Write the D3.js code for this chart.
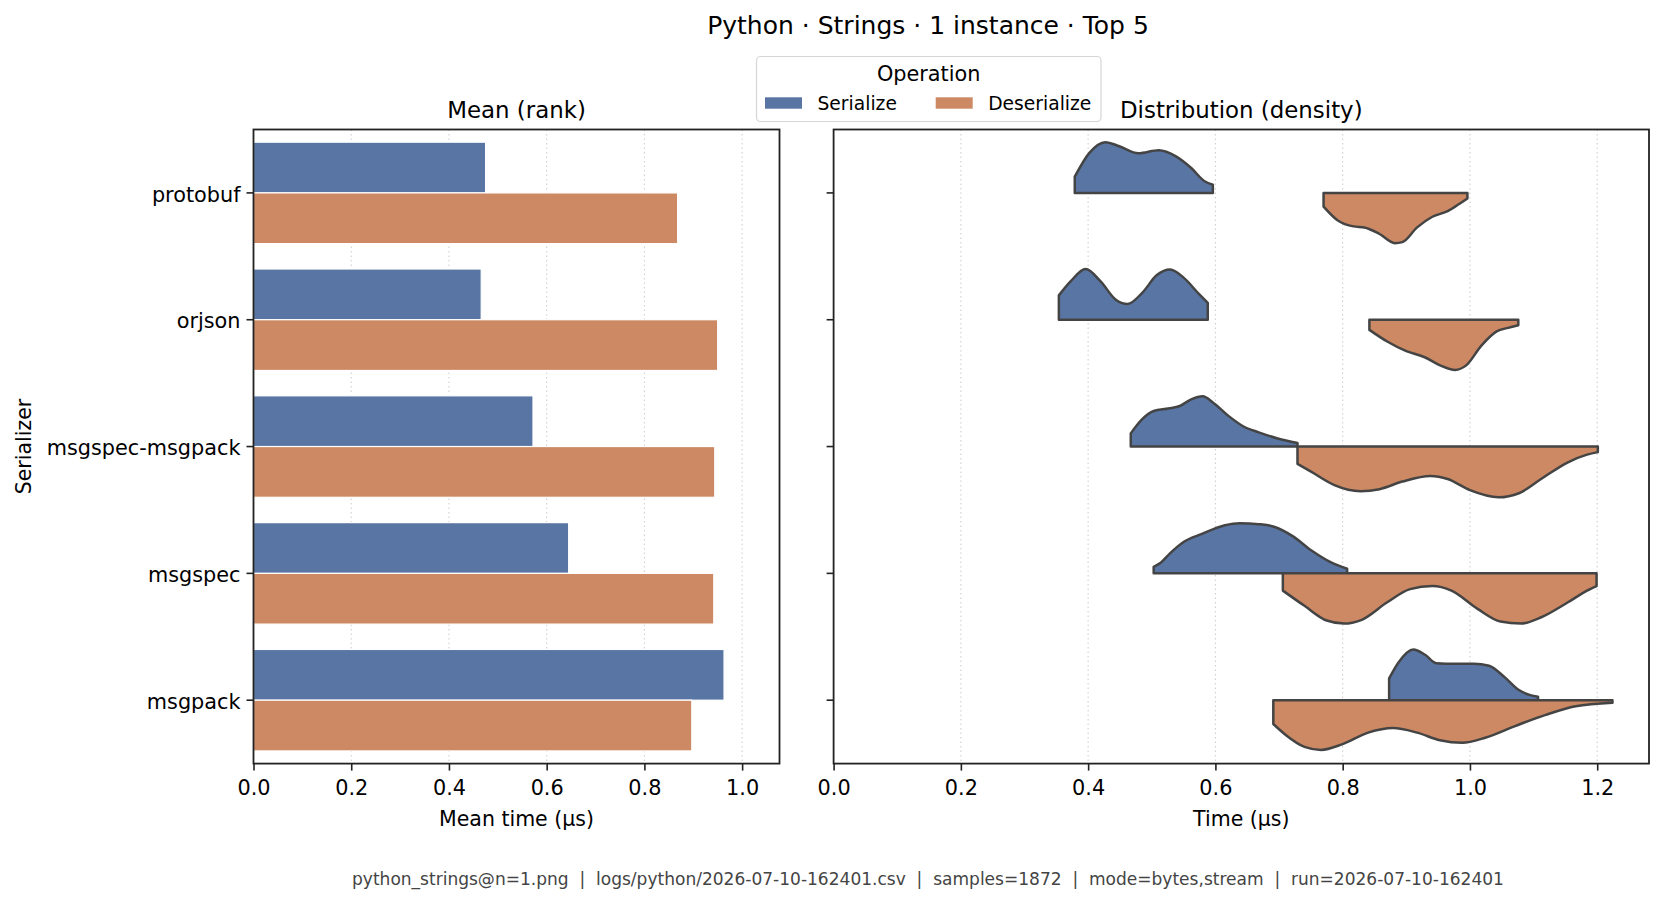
<!DOCTYPE html>
<html>
<head>
<meta charset="utf-8">
<title>Python Strings benchmark</title>
<script src="https://d3js.org/d3.v7.min.js"></script>
<style>
  body { margin: 0; background: #fff; }
  text { font-family: "DejaVu Sans", sans-serif; fill: #000; }
  .tick text { font-size: 20.8px; }
  .tick line { stroke: #222; stroke-width: 1.6px; }
</style>
</head>
<body>
<div id="chart"></div>
<script>
// ---- data ----
const categories = ["protobuf", "orjson", "msgspec-msgpack", "msgspec", "msgpack"];
const operations = ["Serialize", "Deserialize"];
const meanSerialize = [0.475, 0.466, 0.572, 0.645, 0.963];
const meanDeserialize = [0.868, 0.950, 0.944, 0.942, 0.897];
const leftTicks = [0.0, 0.2, 0.4, 0.6, 0.8, 1.0];
const rightTicks = [0.0, 0.2, 0.4, 0.6, 0.8, 1.0, 1.2];

// density profiles [time µs, relative density], one list per serializer
const serializeDensity = [
  [[0.379, 0.32], [0.402, 0.79], [0.427, 1.0], [0.449, 0.92], [0.479, 0.78], [0.511, 0.84], [0.538, 0.72], [0.562, 0.49], [0.583, 0.23], [0.596, 0.16]],
  [[0.354, 0.48], [0.372, 0.75], [0.396, 1.0], [0.420, 0.75], [0.443, 0.40], [0.462, 0.31], [0.485, 0.53], [0.508, 0.88], [0.529, 0.99], [0.550, 0.83], [0.574, 0.51], [0.588, 0.33]],
  [[0.467, 0.26], [0.485, 0.54], [0.503, 0.70], [0.526, 0.75], [0.544, 0.80], [0.562, 0.93], [0.580, 0.99], [0.597, 0.86], [0.621, 0.60], [0.645, 0.39], [0.668, 0.28], [0.698, 0.16], [0.729, 0.07]],
  [[0.503, 0.13], [0.514, 0.21], [0.529, 0.40], [0.550, 0.62], [0.579, 0.78], [0.615, 0.95], [0.638, 0.99], [0.668, 0.97], [0.692, 0.92], [0.722, 0.73], [0.751, 0.45], [0.781, 0.22], [0.807, 0.09]],
  [[0.873, 0.43], [0.888, 0.75], [0.911, 1.0], [0.929, 0.90], [0.947, 0.73], [0.977, 0.72], [1.006, 0.72], [1.030, 0.68], [1.054, 0.46], [1.077, 0.20], [1.095, 0.10], [1.107, 0.07]]
];
const deserializeDensity = [
  [[0.770, 0.27], [0.793, 0.55], [0.817, 0.66], [0.834, 0.68], [0.858, 0.81], [0.882, 0.99], [0.894, 0.97], [0.917, 0.68], [0.941, 0.47], [0.965, 0.36], [0.983, 0.22], [0.996, 0.11]],
  [[0.842, 0.20], [0.870, 0.43], [0.900, 0.62], [0.929, 0.74], [0.953, 0.90], [0.977, 0.99], [0.994, 0.90], [1.018, 0.51], [1.042, 0.23], [1.060, 0.16], [1.076, 0.11]],
  [[0.729, 0.34], [0.751, 0.50], [0.787, 0.76], [0.828, 0.88], [0.858, 0.84], [0.894, 0.69], [0.938, 0.58], [0.965, 0.64], [1.000, 0.86], [1.045, 1.0], [1.077, 0.92], [1.113, 0.63], [1.154, 0.31], [1.184, 0.16], [1.201, 0.11]],
  [[0.706, 0.34], [0.740, 0.64], [0.775, 0.93], [0.802, 0.99], [0.829, 0.92], [0.870, 0.57], [0.906, 0.31], [0.941, 0.25], [0.971, 0.34], [1.012, 0.70], [1.048, 0.95], [1.080, 0.99], [1.113, 0.86], [1.154, 0.57], [1.184, 0.34], [1.199, 0.25]],
  [[0.691, 0.47], [0.710, 0.68], [0.740, 0.92], [0.766, 0.98], [0.799, 0.87], [0.840, 0.64], [0.879, 0.55], [0.917, 0.64], [0.953, 0.79], [0.988, 0.84], [1.024, 0.74], [1.071, 0.51], [1.119, 0.29], [1.166, 0.12], [1.224, 0.05]]
];
const footerText = "python_strings@n=1.png  |  logs/python/2026-07-10-162401.csv  |  samples=1872  |  mode=bytes,stream  |  run=2026-07-10-162401";

const colors = { Serialize: "#5975a4", Deserialize: "#cc8963" };

const W = 1663, H = 905;
const plotTop = 129.5, plotBottom = 763.6;
const leftPanel = { x0: 253.5, x1: 779.5 };
const rightPanel = { x0: 833.6, x1: 1649 };

const svg = d3.select("#chart").append("svg").attr("width", W).attr("height", H);

const y = d3.scaleBand().domain(categories).range([plotTop, plotBottom]).padding(0);
const bw = y.bandwidth();
const xl = d3.scaleLinear().domain([0, 1.0765]).range([leftPanel.x0, leftPanel.x1]);
const xr = d3.scaleLinear().domain([0, 1.2814]).range([rightPanel.x0, rightPanel.x1]);

function drawGrid(x, ticks) {
  svg.append("g").selectAll("line").data(ticks.filter(t => t > 0)).join("line")
    .attr("x1", d => x(d)).attr("x2", d => x(d))
    .attr("y1", plotTop).attr("y2", plotBottom)
    .attr("stroke", "#d0d0d0").attr("stroke-width", 1.1)
    .attr("stroke-dasharray", "1.5,3");
}
drawGrid(xl, leftTicks);
drawGrid(xr, rightTicks);

// ---- left: mean bars ----
const bars = svg.append("g");
categories.forEach((c, i) => {
  [meanSerialize[i], meanDeserialize[i]].forEach((v, k) => {
    bars.append("rect")
      .attr("x", xl(0))
      .attr("y", y(c) + bw * 0.1 + k * bw * 0.4)
      .attr("width", xl(v) - xl(0))
      .attr("height", bw * 0.4)
      .attr("fill", colors[operations[k]])
      .attr("stroke", "#fff").attr("stroke-width", 1.2);
  });
});

// ---- right: split violins ----
const half = bw * 0.4;
const violins = svg.append("g");
categories.forEach((c, i) => {
  const mid = y(c) + bw / 2;
  const up = d3.area().curve(d3.curveMonotoneX)
    .x(d => xr(d[0])).y0(mid).y1(d => mid - d[1] * half);
  const down = d3.area().curve(d3.curveMonotoneX)
    .x(d => xr(d[0])).y0(mid).y1(d => mid + d[1] * half);
  violins.append("path").attr("d", up(serializeDensity[i]))
    .attr("fill", colors.Serialize).attr("stroke", "#444")
    .attr("stroke-width", 2.5).attr("stroke-linejoin", "round");
  violins.append("path").attr("d", down(deserializeDensity[i]))
    .attr("fill", colors.Deserialize).attr("stroke", "#444")
    .attr("stroke-width", 2.5).attr("stroke-linejoin", "round");
});

// ---- axes ----
function frame(p) {
  svg.append("rect").attr("x", p.x0).attr("y", plotTop)
    .attr("width", p.x1 - p.x0).attr("height", plotBottom - plotTop)
    .attr("fill", "none").attr("stroke", "#222").attr("stroke-width", 1.8);
}
frame(leftPanel);
frame(rightPanel);

const fmt = d3.format(".1f");
svg.append("g").attr("transform", `translate(0,${plotBottom})`)
  .call(d3.axisBottom(xl).tickValues(leftTicks).tickFormat(fmt).tickSize(7).tickPadding(10))
  .call(g => g.select(".domain").remove());
svg.append("g").attr("transform", `translate(0,${plotBottom})`)
  .call(d3.axisBottom(xr).tickValues(rightTicks).tickFormat(fmt).tickSize(7).tickPadding(10))
  .call(g => g.select(".domain").remove());
svg.append("g").attr("transform", `translate(${leftPanel.x0},0)`)
  .call(d3.axisLeft(y).tickSize(7).tickPadding(6))
  .call(g => g.select(".domain").remove())
  .call(g => g.selectAll(".tick text").attr("dy", "0.42em"));
svg.append("g").attr("transform", `translate(${rightPanel.x0},0)`)
  .call(d3.axisLeft(y).tickSize(7).tickFormat(""))
  .call(g => g.select(".domain").remove());
svg.selectAll(".tick text").attr("fill", "#000");

// ---- texts ----
svg.append("text").attr("x", 928).attr("y", 25.5)
  .attr("text-anchor", "middle").attr("dominant-baseline", "central")
  .style("font-size", "25px").text("Python · Strings · 1 instance · Top 5");
svg.append("text").attr("x", (leftPanel.x0 + leftPanel.x1) / 2).attr("y", 110)
  .attr("text-anchor", "middle").attr("dominant-baseline", "central")
  .style("font-size", "22.9px").text("Mean (rank)");
svg.append("text").attr("x", (rightPanel.x0 + rightPanel.x1) / 2).attr("y", 110)
  .attr("text-anchor", "middle").attr("dominant-baseline", "central")
  .style("font-size", "22.9px").text("Distribution (density)");
svg.append("text").attr("x", (leftPanel.x0 + leftPanel.x1) / 2).attr("y", 819)
  .attr("text-anchor", "middle").attr("dominant-baseline", "central")
  .style("font-size", "20.5px").text("Mean time (µs)");
svg.append("text").attr("x", (rightPanel.x0 + rightPanel.x1) / 2).attr("y", 819)
  .attr("text-anchor", "middle").attr("dominant-baseline", "central")
  .style("font-size", "20.5px").text("Time (µs)");
svg.append("text")
  .attr("transform", `translate(24,${(plotTop + plotBottom) / 2}) rotate(-90)`)
  .attr("text-anchor", "middle").attr("dominant-baseline", "central")
  .style("font-size", "20.5px").text("Serializer");
svg.append("text").attr("x", 928).attr("y", 879)
  .attr("text-anchor", "middle").attr("dominant-baseline", "central")
  .style("font-size", "17.05px").style("white-space", "pre")
  .style("fill", "#444").text(footerText);

// ---- legend ----
const lg = svg.append("g");
lg.append("rect").attr("x", 756.5).attr("y", 56.5).attr("width", 344.5).attr("height", 65)
  .attr("rx", 4).attr("fill", "#fff").attr("fill-opacity", 0.8)
  .attr("stroke", "#d6d6d6").attr("stroke-width", 1.2);
lg.append("text").attr("x", 928.7).attr("y", 74).attr("text-anchor", "middle")
  .attr("dominant-baseline", "central").style("font-size", "20.8px").text("Operation");
const legendX = [765, 935.7];
operations.forEach((op, k) => {
  lg.append("rect").attr("x", legendX[k]).attr("y", 97.3).attr("width", 37).attr("height", 11.4)
    .attr("fill", colors[op]);
  lg.append("text").attr("x", legendX[k] + 52.5).attr("y", 103).attr("dominant-baseline", "central")
    .style("font-size", "18.7px").text(op);
});
</script>
</body>
</html>
